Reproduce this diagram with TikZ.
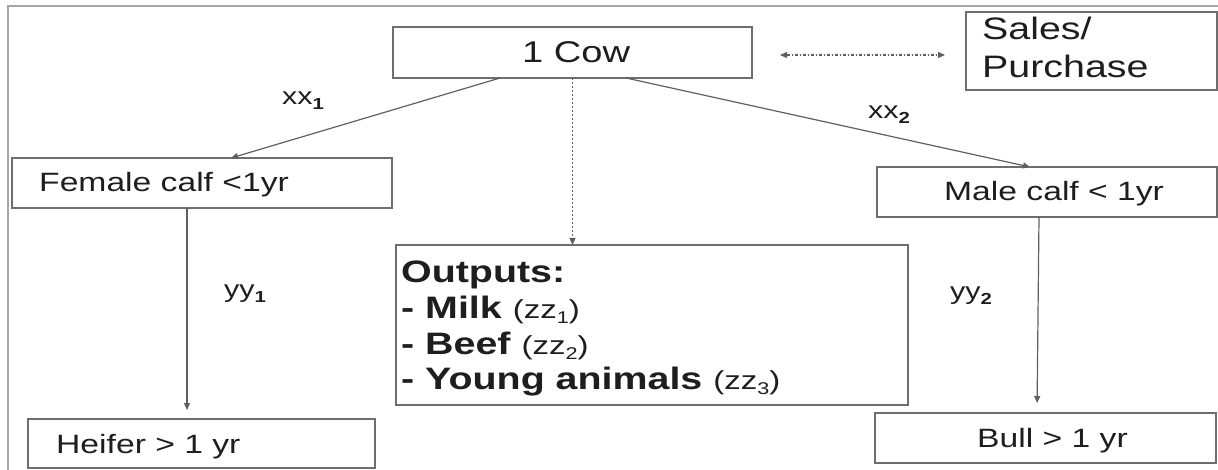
\documentclass[tikz,border=0pt]{standalone}
\usepackage{fontspec}
\setmainfont{Liberation Sans}[FakeStretch=1.27]
\usetikzlibrary{arrows.meta}
\definecolor{ln}{HTML}{606060}
\definecolor{bx}{HTML}{6E6E6E}
\definecolor{tx}{HTML}{1E1E1E}
\definecolor{fr}{HTML}{A6A6A6}
\newcommand{\fs}[1]{\fontsize{#1}{#1}\selectfont}
\newcommand{\sbs}[2]{\raisebox{-5pt}{\fs{#1}#2}}
\tikzset{
 box/.style={draw=bx, line width=1.4pt, fill=white, inner sep=0pt, outer sep=0pt, anchor=north west},
 txt/.style={inner sep=0pt, anchor=base west, text=tx},
 conn/.style={draw=ln, line width=1.2pt, -{Triangle[length=7pt,width=6pt]}},
 dconn/.style={draw=ln, line width=1.1pt, dash pattern=on 2pt off 2pt, -{Triangle[length=7pt,width=6pt]}},
 ddconn/.style={draw=ln, line width=1.1pt, dash pattern=on 3pt off 2pt on 1pt off 2pt, {Triangle[length=7pt,width=6pt]}-{Triangle[length=7pt,width=6pt]}},
}
\begin{document}
\begin{tikzpicture}[x=1pt,y=-1pt]
\useasboundingbox (0,0) rectangle (1218,470);
% outer frame
\draw[fr, line width=2pt] (8,471) -- (8,6) -- (1219,6);
% boxes
\node[box, minimum width=359pt, minimum height=51pt] (cow) at (393,27) {};
\node[box, minimum width=251pt, minimum height=78pt] (sales) at (966,12) {};
\node[box, minimum width=380pt, minimum height=50pt] (fem) at (12,158) {};
\node[box, minimum width=340pt, minimum height=50pt] (male) at (877,167) {};
\node[box, minimum width=512pt, minimum height=160pt] (outp) at (396,245) {};
\node[box, minimum width=347pt, minimum height=49pt] (heif) at (28,419) {};
\node[box, minimum width=341pt, minimum height=50pt] (bull) at (875,413) {};
% texts
\node[txt] (cowT) at (522,63) {\fs{30}1 Cow};
\node[txt] (salesT1) at (982,40) {\fs{31}Sales/};
\node[txt] (salesT2) at (982,78) {\fs{31}Purchase};
\node[txt] (femT) at (39,192) {\fs{26.5}Female calf <1yr};
\node[txt] (maleT) at (944,201) {\fs{26.5}Male calf < 1yr};
\node[txt] (heifT) at (56,453) {\fs{26.5}Heifer > 1 yr};
\node[txt] (bullT) at (977,447) {\fs{26.5}Bull > 1 yr};
\node[txt] (o1) at (401,283) {\fs{31}\bfseries Outputs:};
\node[txt] (o2) at (401,319) {\fs{31}\bfseries - Milk \mdseries\fs{26}(zz\sbs{17}{1})};
\node[txt] (o3) at (401,354) {\fs{31}\bfseries - Beef \mdseries\fs{26}(zz\sbs{17}{2})};
\node[txt] (o4) at (401,389) {\fs{31}\bfseries - Young animals \mdseries\fs{26}(zz\sbs{17}{3})};
% connectors
\draw[conn] ([xshift=107pt]cow.south west) -- ([xshift=219pt]fem.north west);
\draw[conn] ([xshift=233pt]cow.south west) -- ([xshift=153pt]male.north west);
\draw[dconn] (cow.south) -- (cow.south |- outp.north);
\draw[ddconn] ([xshift=28pt,yshift=-2.5pt]cow.east) -- ([xshift=-21pt,yshift=-2.5pt]sales.west |- cow.east);
\draw[conn, shorten >=9pt] ([xshift=175pt]fem.south west) -- ([xshift=159pt]heif.north west);
\draw[conn, shorten >=10pt] ([xshift=162pt]male.south west) -- ([xshift=162pt]bull.north west);
% labels
\node[txt] (xx1) at (282,105) {\fs{24}xx\sbs{16}{\bfseries 1}};
\node[txt] (xx2) at (868,119) {\fs{24}xx\sbs{16}{\bfseries 2}};
\node[txt] (yy1) at (224,298) {\fs{24}yy\sbs{16}{\bfseries 1}};
\node[txt] (yy2) at (950,300) {\fs{24}yy\sbs{16}{\bfseries 2}};
\end{tikzpicture}
\end{document}
